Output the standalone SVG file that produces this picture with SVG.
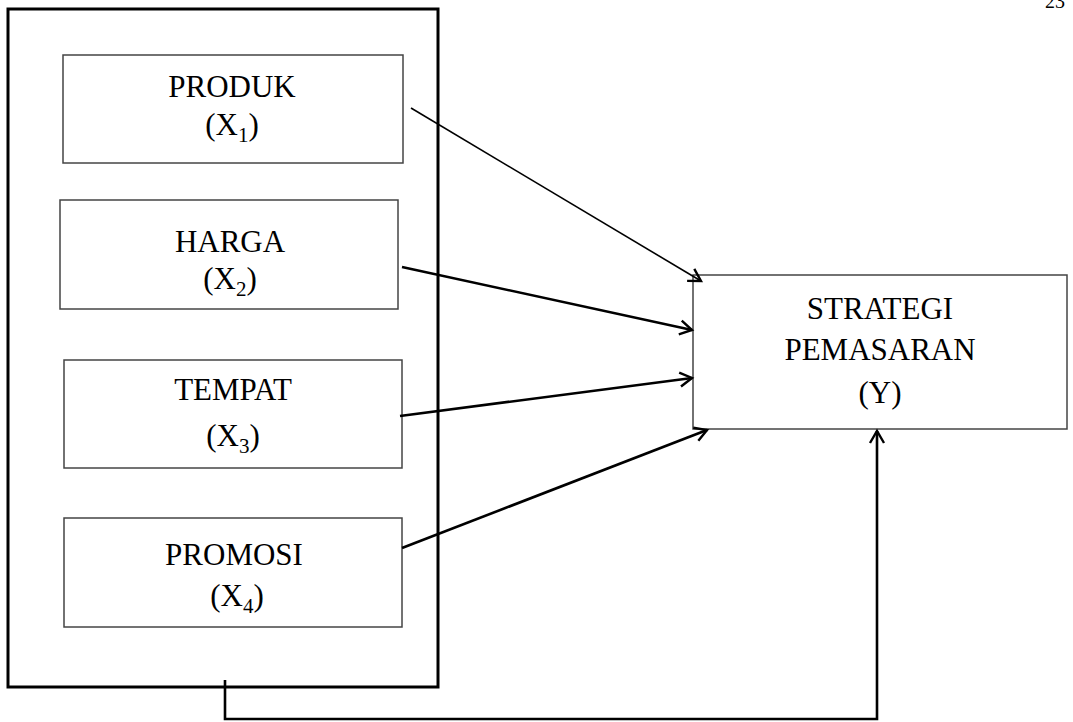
<svg xmlns="http://www.w3.org/2000/svg" width="1073" height="722" viewBox="0 0 1073 722">
<style>
.box{fill:#fff;stroke:#444;stroke-width:1.5}
.outer{fill:none;stroke:#000;stroke-width:3}
.t{font-family:"Liberation Serif","Times New Roman",serif;font-size:31px;fill:#000;text-anchor:middle}
.sub{font-size:21px}
.thin{fill:none;stroke:#000;stroke-width:1.6}
.thick{fill:none;stroke:#000;stroke-width:2.6}
</style>
<defs>
<marker id="ah" markerWidth="20" markerHeight="20" refX="14" refY="8" orient="auto" markerUnits="userSpaceOnUse" viewBox="0 0 20 16">
<path d="M2,1 L14,8 L2,15" fill="none" stroke="#000" stroke-width="2.4"/>
</marker>
</defs>
<rect width="1073" height="722" fill="#fff"/>
<text x="1055" y="8" class="t" style="font-size:20px">23</text>
<g id="outer"><rect class="outer" x="8" y="9" width="430" height="678"/></g>
<g id="produk">
<rect class="box" x="63" y="55" width="340" height="108"/>
<text class="t" x="232" y="97">PRODUK</text>
<text class="t" x="232" y="135">(X<tspan class="sub" dy="7">1</tspan><tspan dy="-7">)</tspan></text>
</g>
<g id="harga">
<rect class="box" x="60" y="200" width="338" height="109"/>
<text class="t" x="230" y="252">HARGA</text>
<text class="t" x="230" y="289">(X<tspan class="sub" dy="7">2</tspan><tspan dy="-7">)</tspan></text>
</g>
<g id="tempat">
<rect class="box" x="64" y="360" width="338" height="108"/>
<text class="t" x="233" y="400">TEMPAT</text>
<text class="t" x="233" y="446">(X<tspan class="sub" dy="7">3</tspan><tspan dy="-7">)</tspan></text>
</g>
<g id="promosi">
<rect class="box" x="64" y="518" width="338" height="109"/>
<text class="t" x="234" y="565">PROMOSI</text>
<text class="t" x="237" y="606">(X<tspan class="sub" dy="7">4</tspan><tspan dy="-7">)</tspan></text>
</g>
<g id="strategi">
<rect class="box" x="693" y="275" width="374" height="154"/>
<text class="t" x="880" y="319">STRATEGI</text>
<text class="t" x="880" y="360">PEMASARAN</text>
<text class="t" x="880" y="403">(Y)</text>
</g>
<g id="connectors">
<line class="thin" x1="411" y1="108" x2="701" y2="281" marker-end="url(#ah)"/>
<line class="thick" x1="402" y1="267" x2="692" y2="330" marker-end="url(#ah)"/>
<line class="thick" x1="400" y1="416" x2="692" y2="378" marker-end="url(#ah)"/>
<line class="thick" x1="402" y1="548" x2="707" y2="430" marker-end="url(#ah)"/>
<polyline class="thick" points="225,680 225,719 877,719 877,431" marker-end="url(#ah)"/>
</g>
</svg>
